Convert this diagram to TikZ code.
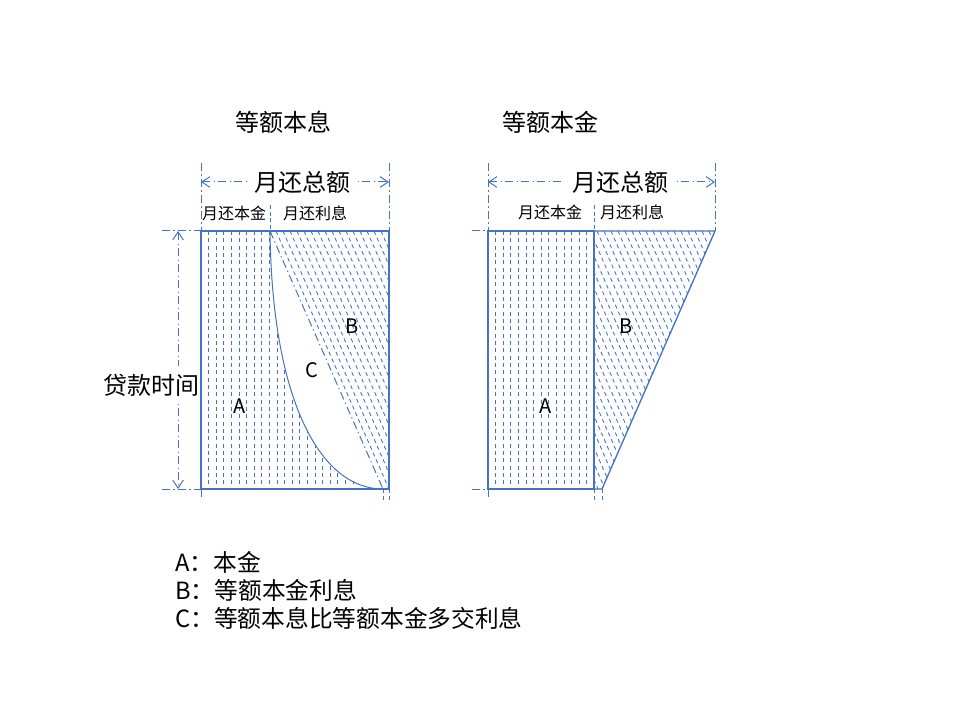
\documentclass[tikz,border=0pt]{standalone}
\usepackage{fontspec}
\setmainfont{Noto Sans CJK SC}
\usetikzlibrary{arrows.meta}
\definecolor{lineblue}{RGB}{68,114,196}
\tikzset{
  frame/.style={draw=lineblue, line width=1pt},
  hatch/.style={draw=lineblue, line width=0.65pt, dash pattern=on 3pt off 2.5pt},
  dimline/.style={draw=lineblue, line width=0.75pt, dash pattern=on 6pt off 2.5pt on 1pt off 2.5pt},
  tickline/.style={draw=lineblue, line width=0.75pt, dash pattern=on 3pt off 2pt},
  dimarrow/.style={dimline, {Straight Barb[length=6pt,width=8pt]}-{Straight Barb[length=6pt,width=8pt]}},
  big/.style={font=\fontsize{18}{22}\selectfont},
  small/.style={font=\fontsize{12}{14}\selectfont},
  area/.style={font=\fontsize{15}{18}\selectfont},
  legend/.style={font=\fontsize{17.8}{21}\selectfont, anchor=west, inner sep=0pt},
  gap/.style={fill=white, inner xsep=5pt, inner ysep=6pt}
}
\begin{document}
\begin{tikzpicture}[x=0.75pt,y=-0.75pt]
  \useasboundingbox (0,0) rectangle (960,720);
  % corners
  \coordinate (l1) at (201,231);
  \coordinate (l2) at (389,231);
  \coordinate (l3) at (389,489);
  \coordinate (l4) at (201,489);
  \coordinate (lm) at (270,231);
  \coordinate (le) at (383,489);
  \coordinate (r1) at (488,231);
  \coordinate (r2) at (594,231);
  \coordinate (r3) at (715,231);
  \coordinate (r4) at (602,489);
  \coordinate (r5) at (594,489);
  \coordinate (r6) at (488,489);

  % titles
  \draw
    (283,122) node[big] (t1){等额本息}
    (550,122) node[big] (t2){等额本金};

  % dimensions, left
  \draw[dimline] (201,163) -- (l1);
  \draw[dimline] (389,163) -- (l2);
  \draw[tickline] (270,205) -- (lm);
  \draw[dimarrow] (201,182) -- (389,182);
  \node[big, gap] (lsum) at (302,182) {月还总额};
  \node[small] (lpa) at (234,213) {月还本金};
  \node[small] (lpb) at (315,213) {月还利息};
  \draw[dimline] (162,231) -- (l1);
  \draw[dimline] (162,489) -- (l4);
  \draw[dimarrow] (178,231) -- (178,489);
  \node[big, gap] (time) at (151,385) {贷款时间};
  \draw[dimline] (l4) -- ++(0,11);
  \draw[tickline] (le) -- ++(0,13);
  \draw[tickline] (l3) -- ++(0,13);

  % dimensions, right
  \draw[dimline] (488,163) -- (r1);
  \draw[dimline] (715,163) -- (r3);
  \draw[tickline] (594,205) -- (r2);
  \draw[dimarrow] (488,182) -- (715,182);
  \node[big, gap] (rsum) at (620,182) {月还总额};
  \node[small] (rpa) at (550,212) {月还本金};
  \node[small] (rpb) at (632,212) {月还利息};
  \draw[dimline] (472,231) -- (r1);
  \draw[dimline] (472,489) -- (r6);
  \draw[dimline] (r6) -- ++(0,11);
  \draw[tickline] (r5) -- ++(0,13);
  \draw[tickline] (r4) -- ++(0,13);

  % left hatching
  \begin{scope}
    \clip (l1) -- (lm) .. controls (272,400) and (320,489) .. (le) -- (l4) -- cycle;
    \foreach \x in {1,...,20}
      \draw[hatch] (201+7.6*\x,231) -- ++(0,258);
  \end{scope}
  \begin{scope}
    \clip (lm) -- (l2) -- (l3) -- (le) -- cycle;
    \foreach \x in {150,157,...,395}
      \draw[hatch] (\x,231) -- ++(113,258);
  \end{scope}
  \draw[dimline] (lm) -- (le);
  \draw[frame, line width=0.75pt] (lm) .. controls (272,400) and (320,489) .. (le);
  \draw[frame] (l1) rectangle (l3);

  % right hatching
  \foreach \x in {1,...,13}
    \draw[hatch] (488+7.6*\x,231) -- ++(0,258);
  \begin{scope}
    \clip (r2) -- (r3) -- (r4) -- (r5) -- cycle;
    \foreach \x in {478,485,...,720}
      \draw[hatch] (\x,231) -- ++(113,258);
  \end{scope}
  \draw[frame] (r1) rectangle (r5);
  \draw[frame] (r2) -- (r3) -- (r4) -- (r5);

  % area labels
  \draw
    (240,406) node[area] (la){A}
    (352,326) node[area] (lb){B}
    (312,370) node[area] (lc){C}
    (546,406) node[area] (ra){A}
    (626,326) node[area] (rb){B};

  % legend
  \node[legend] (k1) at (175,562) {A：本金};
  \node[legend] (k2) at (175,590) {B：等额本金利息};
  \node[legend] (k3) at (175,618) {C：等额本息比等额本金多交利息};
\end{tikzpicture}
\end{document}
